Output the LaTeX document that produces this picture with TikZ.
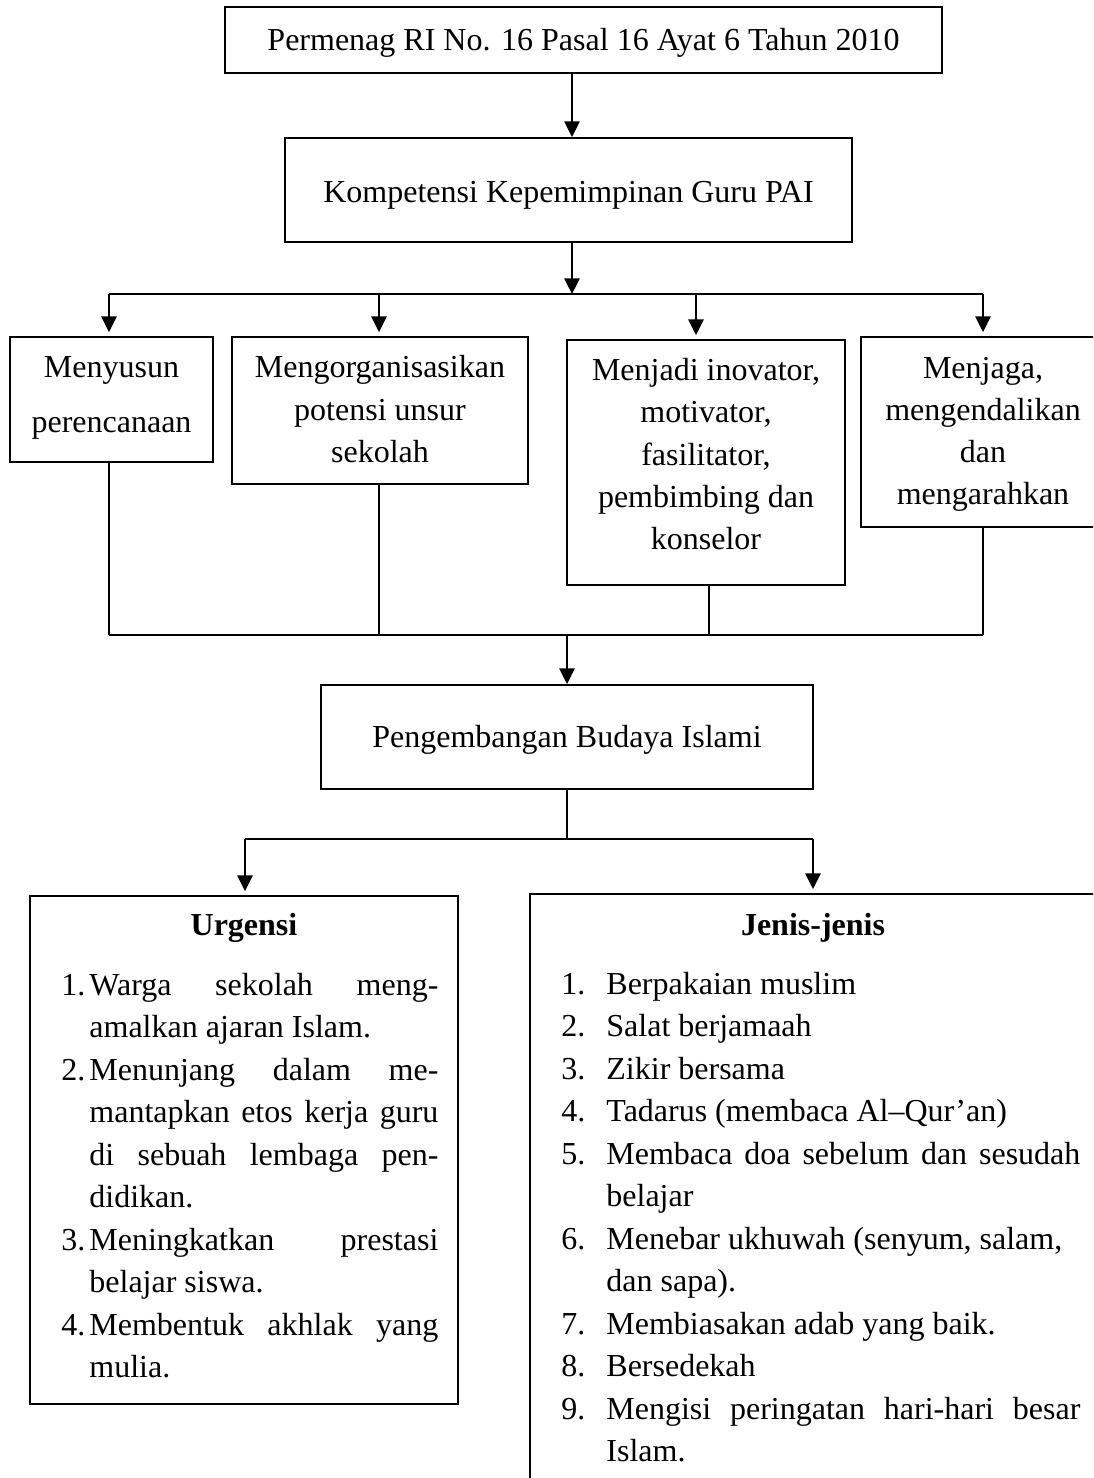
\documentclass[tikz,border=0pt]{standalone}
\usepackage{fontspec}
\setmainfont{Liberation Serif}
\usetikzlibrary{arrows.meta,fit}
\newcommand\myfs{\fontsize{16}{20}\selectfont}
\tikzset{
  boxs/.style={draw, line width=0.95pt, inner sep=0pt, rectangle},
  arr/.style={line width=0.95pt, -{Triangle[length=7.8pt,width=7.6pt]}},
  gap/.style={shorten >=2pt},
  con/.style={line width=0.65pt},
  hcon/.style={line width=0.95pt},
  tl/.style={anchor=base, inner sep=0pt},
  tw/.style={anchor=base west, inner sep=0pt},
}
\begin{document}
\begin{tikzpicture}[x=0.5pt, y=-0.5pt, font=\myfs]
\useasboundingbox (0,0) rectangle (1093,1478);
\fill[white] (0,0) rectangle (1093,1478);
\clip (0,0) rectangle (1093,1478);

% top boxes
\node[boxs, fit={(225,7) (942,73)}] (top) {};
\node[tl] (ttop) at (583.5,50) {Permenag RI No. 16 Pasal 16 Ayat 6 Tahun 2010};
\node[boxs, fit={(285,138) (852,242)}] (komp) {};
\node[tl] (tkomp) at (568.5,202) {Kompetensi Kepemimpinan Guru PAI};
\coordinate (j1) at (572,294);
\draw[arr] (top.south -| j1) -- (komp.north -| j1);
\draw[arr] (komp.south -| j1) -- (j1);

% distribution line
\coordinate (a1) at (109,294);
\coordinate (a2) at (379,294);
\coordinate (a3) at (696,294);
\coordinate (a4) at (983,294);
\draw[hcon] (a1) -- (a4);

% four boxes
\node[boxs, fit={(10,337) (213,462)}] (b1) {};
\node[boxs, fit={(232,337) (528,484)}] (b2) {};
\node[boxs, fit={(567,340) (845,585)}] (b3) {};
\node[boxs, fit={(861,337) (1110,527)}] (b4) {};
\draw[arr, gap] (a1) -- (a1 |- b1.north);
\draw[arr, gap] (a2) -- (a2 |- b2.north);
\draw[arr, gap] (a3) -- (a3 |- b3.north);
\draw[arr, gap] (a4) -- (a4 |- b4.north);

\node[tl] (t11) at (111.5,377) {Menyusun};
\node[tl] (t12) at (111.5,432) {perencanaan};

\node[tl] (t21) at (380,377) {Mengorganisasikan};
\node[tl] (t22) at (380,420) {potensi unsur};
\node[tl] (t23) at (380,462) {sekolah};

\node[tl] (t31) at (706,380) {Menjadi inovator,};
\node[tl] (t32) at (706,422) {motivator,};
\node[tl] (t33) at (706,465) {fasilitator,};
\node[tl] (t34) at (706,507) {pembimbing dan};
\node[tl] (t35) at (706,549) {konselor};

\node[tl] (t41) at (983,378) {Menjaga,};
\node[tl] (t42) at (983,420) {mengendalikan};
\node[tl] (t43) at (983,462) {dan};
\node[tl] (t44) at (983,504) {mengarahkan};

% gathering line
\coordinate (c1) at (109,635);
\coordinate (c2) at (379,635);
\coordinate (c3) at (709,635);
\coordinate (c4) at (983,635);
\coordinate (m1) at (567,635);
\draw[con] (b1.south -| c1) -- (c1);
\draw[con] (b2.south -| c2) -- (c2);
\draw[con] (b3.south -| c3) -- (c3);
\draw[con] (b4.south -| c4) -- (c4);
\draw[hcon] (c1) -- (c4);

\node[boxs, fit={(321,685) (813,789)}] (peng) {};
\node[tl] (tpeng) at (567,747) {Pengembangan Budaya Islami};
\draw[arr] (m1) -- (m1 |- peng.north);

\coordinate (m2) at (567,839);
\coordinate (s1) at (245,839);
\coordinate (s2) at (813,839);
\draw[con] (peng.south -| m2) -- (m2);
\draw[hcon] (s1) -- (s2);

\node[boxs, fit={(30,896) (458,1404)}] (urg) {};
\node[boxs, fit={(530,894) (1110,1500)}] (jen) {};
\draw[arr, gap] (s1) -- (s1 |- urg.north);
\draw[arr, gap] (s2) -- (s2 |- jen.north);

% Urgensi
\node[tl] (uh) at (244,935) {\bfseries Urgensi};
\node[tw] (u1n) at (61,995) {1.};
\node[tw] (u1a) at (89,995) {\makebox[174.5pt][s]{Warga sekolah meng-}};
\node[tw] (u1b) at (89,1037.5) {amalkan ajaran Islam.};
\node[tw] (u2n) at (61,1080) {2.};
\node[tw] (u2a) at (89,1080) {\makebox[174.5pt][s]{Menunjang dalam me-}};
\node[tw] (u2b) at (89,1122.5) {\makebox[174.5pt][s]{mantapkan etos kerja guru}};
\node[tw] (u2c) at (89,1165) {\makebox[174.5pt][s]{di sebuah lembaga pen-}};
\node[tw] (u2d) at (89,1207.5) {didikan.};
\node[tw] (u3n) at (61,1250) {3.};
\node[tw] (u3a) at (89,1250) {\makebox[174.5pt][s]{Meningkatkan prestasi}};
\node[tw] (u3b) at (89,1292.5) {belajar siswa.};
\node[tw] (u4n) at (61,1335) {4.};
\node[tw] (u4a) at (89,1335) {\makebox[174.5pt][s]{Membentuk akhlak yang}};
\node[tw] (u4b) at (89,1377.5) {mulia.};

% Jenis-jenis
\node[tl] (jh) at (813,935) {\bfseries Jenis-jenis};
\node[tw] (j1n) at (561,994) {1.};
\node[tw] (j1a) at (606,994) {Berpakaian muslim};
\node[tw] (j2n) at (561,1036.5) {2.};
\node[tw] (j2a) at (606,1036.5) {Salat berjamaah};
\node[tw] (j3n) at (561,1079) {3.};
\node[tw] (j3a) at (606,1079) {Zikir bersama};
\node[tw] (j4n) at (561,1121.5) {4.};
\node[tw] (j4a) at (606,1121.5) {Tadarus (membaca Al–Qur’an)};
\node[tw] (j5n) at (561,1164) {5.};
\node[tw] (j5a) at (606,1164) {\makebox[237pt][s]{Membaca doa sebelum dan sesudah}};
\node[tw] (j5b) at (606,1206.5) {belajar};
\node[tw] (j6n) at (561,1249) {6.};
\node[tw] (j6a) at (606,1249) {Menebar ukhuwah (senyum, salam,};
\node[tw] (j6b) at (606,1291.5) {dan sapa).};
\node[tw] (j7n) at (561,1334) {7.};
\node[tw] (j7a) at (606,1334) {Membiasakan adab yang baik.};
\node[tw] (j8n) at (561,1376.5) {8.};
\node[tw] (j8a) at (606,1376.5) {Bersedekah};
\node[tw] (j9n) at (561,1419) {9.};
\node[tw] (j9a) at (606,1419) {\makebox[237pt][s]{Mengisi peringatan hari-hari besar}};
\node[tw] (j9b) at (606,1461.5) {Islam.};
\end{tikzpicture}
\end{document}
